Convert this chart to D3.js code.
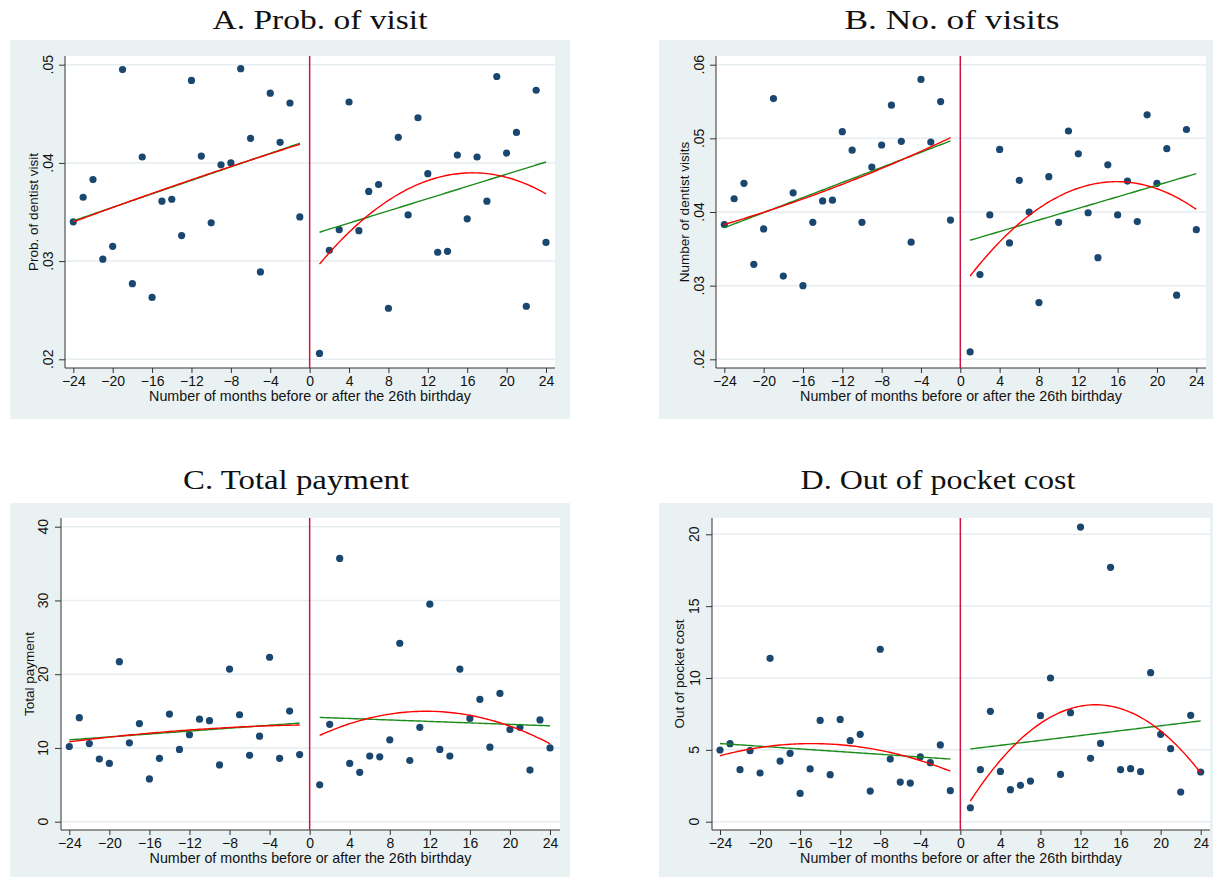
<!DOCTYPE html>
<html>
<head>
<meta charset="utf-8">
<script src="https://cdn.jsdelivr.net/npm/d3@7"></script>
<style>
  body { margin: 0; background: #fff; }
  svg { display: block; }
</style>
</head>
<body>
<div id="chart"></div>
<script>
// Months relative to the 26th birthday (no observation at 0)
const months = [
  -24, -23, -22, -21, -20, -19, -18, -17, -16, -15, -14, -13,
  -12, -11, -10, -9, -8, -7, -6, -5, -4, -3, -2, -1,
  1, 2, 3, 4, 5, 6, 7, 8, 9, 10, 11, 12,
  13, 14, 15, 16, 17, 18, 19, 20, 21, 22, 23, 24
];

// A. Prob. of visit
const probVisit = [
  0.0340, 0.0365, 0.0383, 0.0302, 0.0315, 0.0495, 0.0277, 0.0406, 0.0263, 0.0361, 0.0363, 0.0326,
  0.0484, 0.0407, 0.0339, 0.0398, 0.0400, 0.0496, 0.0425, 0.0289, 0.0471, 0.0421, 0.0461, 0.0345,
  0.0206, 0.0311, 0.0332, 0.0462, 0.0331, 0.0371, 0.0378, 0.0252, 0.0426, 0.0347, 0.0446, 0.0389,
  0.0309, 0.0310, 0.0408, 0.0343, 0.0406, 0.0361, 0.0488, 0.0410, 0.0431, 0.0254, 0.0474, 0.0319
];

// B. No. of visits
const numVisits = [
  0.0383, 0.0418, 0.0439, 0.0329, 0.0377, 0.0554, 0.0313, 0.0426, 0.0300, 0.0386, 0.0415, 0.0416,
  0.0509, 0.0484, 0.0386, 0.0461, 0.0491, 0.0545, 0.0496, 0.0359, 0.0580, 0.0495, 0.0550, 0.0389,
  0.0210, 0.0315, 0.0396, 0.0485, 0.0358, 0.0443, 0.0400, 0.0277, 0.0448, 0.0386, 0.0510, 0.0479,
  0.0399, 0.0338, 0.0464, 0.0396, 0.0442, 0.0387, 0.0532, 0.0439, 0.0486, 0.0287, 0.0512, 0.0376
];

// C. Total payment
const totalPayment = [
  10.2, 14.1, 10.6, 8.5, 7.9, 21.7, 10.7, 13.3, 5.8, 8.6, 14.6, 9.8,
  11.8, 13.9, 13.7, 7.7, 20.7, 14.5, 9.0, 11.6, 22.3, 8.6, 15.0, 9.1,
  5.0, 13.2, 35.7, 7.9, 6.7, 8.9, 8.8, 11.1, 24.2, 8.3, 12.8, 29.5,
  9.8, 8.9, 20.7, 14.0, 16.6, 10.1, 17.4, 12.5, 12.8, 7.0, 13.8, 10.0
];

// D. Out of pocket cost
const outOfPocket = [
  4.99, 5.43, 3.62, 4.94, 3.39, 11.37, 4.22, 4.76, 1.97, 3.67, 7.05, 3.27,
  7.12, 5.64, 6.08, 2.13, 12.0, 4.36, 2.76, 2.69, 4.52, 4.11, 5.34, 2.16,
  0.97, 3.62, 7.68, 3.50, 2.23, 2.53, 2.83, 7.38, 10.0, 3.29, 7.59, 20.5,
  4.41, 5.45, 17.7, 3.62, 3.69, 3.48, 10.37, 6.08, 5.08, 2.06, 7.40, 3.46
];

const xTicks = [-24, -20, -16, -12, -8, -4, 0, 4, 8, 12, 16, 20, 24];
const yTicksA = [0.02, 0.03, 0.04, 0.05];
const yTicksB = [0.02, 0.03, 0.04, 0.05, 0.06];
const yTicksC = [0, 10, 20, 30, 40];
const yTicksD = [0, 5, 10, 15, 20];

const titles = ["A.  Prob. of visit", "B.  No. of visits", "C. Total payment", "D. Out of pocket cost"];
const yTitles = ["Prob. of dentist visit", "Number of dentist visits", "Total payment", "Out of pocket cost"];
const xTitle = "Number of months before or after the 26th birthday";

// colours
const bgColor = "#eaf1f3";
const gridColor = "#e6eef1";
const dotColor = "#1a476f";
const linColor = "#1a8a1a";
const quadColor = "#ff0000";
const cutColor = "#cc1445";

const W = 1214, H = 880;
const sans = "'Liberation Sans', Arial, sans-serif";

const panels = [
  { title: titles[0], yTitle: yTitles[0], values: probVisit, yTicks: yTicksA, fmt: (d) => d3.format(".2f")(d).replace(/^0/, ""),
    bg: [10, 40, 570, 419], plot: [65, 56, 555, 368], xr: [73.3, 546], yr: [359.3, 64.7],
    titleX: 320, titleY: 29, titleW: 215, yTickX: 53.5, yTitleX: 38 },
  { title: titles[1], yTitle: yTitles[1], values: numVisits, yTicks: yTicksB, fmt: (d) => d3.format(".2f")(d).replace(/^0/, ""),
    bg: [659, 40, 1213, 419], plot: [716, 56, 1206, 368], xr: [724.3, 1196.3], yr: [359.3, 64.7],
    titleX: 952, titleY: 29, titleW: 215, yTickX: 704, yTitleX: 688.5 },
  { title: titles[2], yTitle: yTitles[2], values: totalPayment, yTicks: yTicksC, fmt: d3.format("d"),
    bg: [10, 503, 570, 877], plot: [61, 518, 560, 830], xr: [69.3, 550], yr: [821.7, 526.7],
    titleX: 296, titleY: 489, titleW: 226, yTickX: 48.5, yTitleX: 34 },
  { title: titles[3], yTitle: yTitles[3], values: outOfPocket, yTicks: yTicksD, fmt: d3.format("d"),
    bg: [659, 503, 1213, 877], plot: [712, 518, 1210, 830], xr: [720, 1200.7], yr: [821.7, 534.3],
    titleX: 938, titleY: 489, titleW: 275, yTickX: 699.5, yTitleX: 684 }
];

// least squares polynomial fit (deg 1 = lfit, deg 2 = qfit)
function polyfit(xs, ys, deg) {
  const n = deg + 1;
  const A = [];
  for (let i = 0; i < n; i++) {
    A.push(new Array(n + 1).fill(0));
  }
  xs.forEach((x, k) => {
    for (let i = 0; i < n; i++) {
      for (let j = 0; j < n; j++) A[i][j] += Math.pow(x, i + j);
      A[i][n] += ys[k] * Math.pow(x, i);
    }
  });
  for (let c = 0; c < n; c++) {
    let p = c;
    for (let r = c + 1; r < n; r++) if (Math.abs(A[r][c]) > Math.abs(A[p][c])) p = r;
    [A[c], A[p]] = [A[p], A[c]];
    for (let r = 0; r < n; r++) {
      if (r === c) continue;
      const f = A[r][c] / A[c][c];
      for (let k = c; k <= n; k++) A[r][k] -= f * A[c][k];
    }
  }
  const coef = A.map((row, i) => row[n] / row[i]);
  return (x) => coef.reduce((s, b, i) => s + b * Math.pow(x, i), 0);
}

const svg = d3
  .select("#chart")
  .append("svg")
  .attr("width", W)
  .attr("height", H)
  .style("background", "#fff");

function drawPanel(p) {
  const [bx0, by0, bx1, by1] = p.bg;
  const [pl, pt, pr, pb] = p.plot;
  const g = svg.append("g");

  // graph region background
  g.append("rect")
    .attr("x", bx0)
    .attr("y", by0)
    .attr("width", bx1 - bx0)
    .attr("height", by1 - by0)
    .attr("fill", bgColor);

  // title (serif, above the region)
  g.append("text")
    .attr("x", p.titleX)
    .attr("y", p.titleY)
    .attr("text-anchor", "middle")
    .attr("textLength", p.titleW)
    .attr("lengthAdjust", "spacingAndGlyphs")
    .style("font-family", "'Liberation Serif', 'Times New Roman', serif")
    .style("font-size", "28px")
    .attr("fill", "#111")
    .text(p.title);

  // plot region
  g.append("rect")
    .attr("x", pl)
    .attr("y", pt)
    .attr("width", pr - pl)
    .attr("height", pb - pt)
    .attr("fill", "#fff");

  const x = d3.scaleLinear().domain([-24, 24]).range(p.xr);
  const y = d3.scaleLinear().domain(d3.extent(p.yTicks)).range(p.yr);

  // horizontal gridlines
  g.selectAll(".grid")
    .data(p.yTicks)
    .enter()
    .append("line")
    .attr("x1", pl)
    .attr("x2", pr)
    .attr("y1", (d) => y(d))
    .attr("y2", (d) => y(d))
    .attr("stroke", gridColor)
    .attr("stroke-width", 1.5);

  // x axis
  const xAxis = g
    .append("g")
    .attr("transform", `translate(0,${pb})`)
    .call(d3.axisBottom(x).tickValues(xTicks).tickSize(5).tickPadding(3).tickSizeOuter(0));
  xAxis.select(".domain").remove();
  xAxis.selectAll(".tick line").attr("stroke", "#333");
  xAxis
    .selectAll("text")
    .attr("fill", "#111")
    .style("font-family", sans)
    .style("font-size", "14px");

  // y axis (rotated tick labels, Stata style)
  const yAxis = g
    .append("g")
    .attr("transform", `translate(${pl},0)`)
    .call(d3.axisLeft(y).tickValues(p.yTicks).tickSize(6).tickSizeOuter(0).tickFormat(""));
  yAxis.select(".domain").remove();
  yAxis.selectAll(".tick line").attr("stroke", "#333");

  g.selectAll(".ytick")
    .data(p.yTicks)
    .enter()
    .append("text")
    .attr("x", p.yTickX)
    .attr("y", (d) => y(d))
    .attr("transform", (d) => `rotate(-90,${p.yTickX},${y(d)})`)
    .attr("text-anchor", "middle")
    .attr("fill", "#111")
    .style("font-family", sans)
    .style("font-size", "14px")
    .text(p.fmt);

  // axis lines
  g.append("line")
    .attr("x1", pl).attr("x2", pr)
    .attr("y1", pb).attr("y2", pb)
    .attr("stroke", "#333");
  g.append("line")
    .attr("x1", pl).attr("x2", pl)
    .attr("y1", pt).attr("y2", pb)
    .attr("stroke", "#333");

  // axis titles
  g.append("text")
    .attr("x", (pl + pr) / 2)
    .attr("y", pb + 33)
    .attr("text-anchor", "middle")
    .attr("fill", "#111")
    .style("font-family", sans)
    .style("font-size", "14.3px")
    .text(xTitle);

  const yMid = (pt + pb) / 2;
  g.append("text")
    .attr("x", p.yTitleX)
    .attr("y", yMid)
    .attr("transform", `rotate(-90,${p.yTitleX},${yMid})`)
    .attr("text-anchor", "middle")
    .attr("fill", "#111")
    .style("font-family", sans)
    .style("font-size", "13.5px")
    .text(p.yTitle);

  // cutoff at the 26th birthday
  g.append("line")
    .attr("x1", x(0)).attr("x2", x(0))
    .attr("y1", pt).attr("y2", pb)
    .attr("stroke", cutColor)
    .attr("stroke-width", 1.5);

  // scatter
  const pts = months.map((m, i) => ({ m, v: p.values[i] }));
  g.selectAll(".dot")
    .data(pts)
    .enter()
    .append("circle")
    .attr("cx", (d) => x(d.m))
    .attr("cy", (d) => y(d.v))
    .attr("r", 3.6)
    .attr("fill", dotColor);

  // linear and quadratic fits on each side of the cutoff
  const line = d3.line().x((d) => x(d[0])).y((d) => y(d[1]));
  [pts.filter((d) => d.m < 0), pts.filter((d) => d.m > 0)].forEach((side) => {
    const xs = side.map((d) => d.m);
    const ys = side.map((d) => d.v);
    const [lo, hi] = d3.extent(xs);
    const grid = d3.range(lo, hi + 0.001, 0.25);
    const lf = polyfit(xs, ys, 1);
    const qf = polyfit(xs, ys, 2);
    g.append("path")
      .attr("d", line(grid.map((t) => [t, lf(t)])))
      .attr("fill", "none")
      .attr("stroke", linColor)
      .attr("stroke-width", 1.4);
    g.append("path")
      .attr("d", line(grid.map((t) => [t, qf(t)])))
      .attr("fill", "none")
      .attr("stroke", quadColor)
      .attr("stroke-width", 1.4);
  });
}

panels.forEach(drawPanel);
</script>
</body>
</html>
